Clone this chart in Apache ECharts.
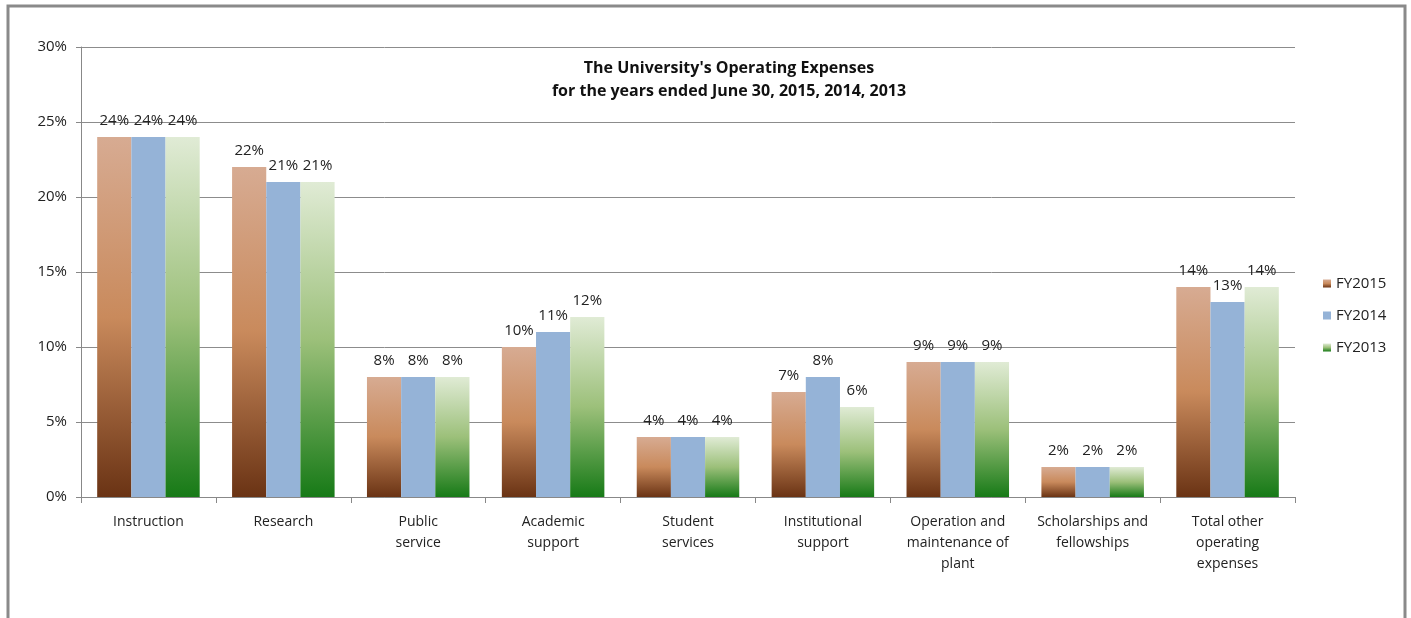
<!DOCTYPE html>
<html>
<head>
<meta charset="utf-8">
<script src="https://cdn.jsdelivr.net/npm/echarts@6/dist/echarts.min.js"></script>
<style>
html,body{margin:0;padding:0;background:#fff;}
#c{width:1411px;height:618px;}
</style>
</head>
<body>
<div id="c"></div>
<script>
const categories = ["Instruction","Research","Public\nservice","Academic\nsupport","Student\nservices","Institutional\nsupport","Operation and\nmaintenance of\nplant","Scholarships and\nfellowships","Total other\noperating\nexpenses"];
const fy2015 = [24,22,8,10,4,7,9,2,14];
const fy2014 = [24,21,8,11,4,8,9,2,13];
const fy2013 = [24,21,8,12,4,6,9,2,14];
const yTicks = [0,5,10,15,20,25,30];

const font = "'Open Sans', 'Liberation Sans', sans-serif";
const chart = echarts.init(document.getElementById('c'));
const grad = (top, mid, bottom) => new echarts.graphic.LinearGradient(0,0,0,1,[
  {offset:0,color:top},{offset:0.5,color:mid},{offset:1,color:bottom}]);
const brown = grad('#d7ab92','#c98a5c','#6a3314');
const green = grad('#e0ebd5','#9cc07a','#177a17');
const blue = '#95b3d7';
const lbl = {show:true, position:'top', formatter:'{c}%', color:'#222', fontSize:15, fontFamily:font, distance:9};

chart.setOption({
  animation:false,
  backgroundColor:'#fff',
  graphic:[{type:'rect', shape:{x:8,y:6,width:1397,height:620}, style:{fill:'none', stroke:'#8a8a8a', lineWidth:3}, silent:true}],
  title:{
    text:"The University's Operating Expenses\nfor the years ended June 30, 2015, 2014, 2013",
    left:724, top:52, textAlign:'center',
    textStyle:{fontFamily:font, fontSize:16, fontWeight:'bold', color:'#111', lineHeight:23}
  },
  legend:{
    orient:'vertical', left:1318, top:271, itemGap:17, itemWidth:8, itemHeight:8, icon:'rect',
    textStyle:{fontFamily:font, fontSize:15, color:'#222'},
    data:['FY2015','FY2014','FY2013']
  },
  grid:{left:81, right:116, top:47, bottom:121},
  xAxis:{
    type:'category', data:categories,
    axisLine:{lineStyle:{color:'#888'}},
    axisTick:{show:true, length:6, lineStyle:{color:'#888'}},
    axisLabel:{fontFamily:font, fontSize:14, color:'#222', lineHeight:21, margin:15, interval:0}
  },
  yAxis:{
    type:'value', min:0, max:30, interval:5,
    axisLine:{show:true, lineStyle:{color:'#888'}},
    axisTick:{show:true, length:5, lineStyle:{color:'#888'}},
    splitLine:{lineStyle:{color:'#8c8c8c'}},
    axisLabel:{formatter:'{value}%', fontFamily:font, fontSize:15, color:'#222', margin:14}
  },
  series:[
    {name:'FY2015', type:'bar', data:fy2015, barGap:'0%', barCategoryGap:'24%', itemStyle:{color:brown}, label:lbl},
    {name:'FY2014', type:'bar', data:fy2014, barGap:'0%', barCategoryGap:'24%', itemStyle:{color:blue}, label:lbl},
    {name:'FY2013', type:'bar', data:fy2013, barGap:'0%', barCategoryGap:'24%', itemStyle:{color:green}, label:lbl}
  ]
});
</script>
</body>
</html>
